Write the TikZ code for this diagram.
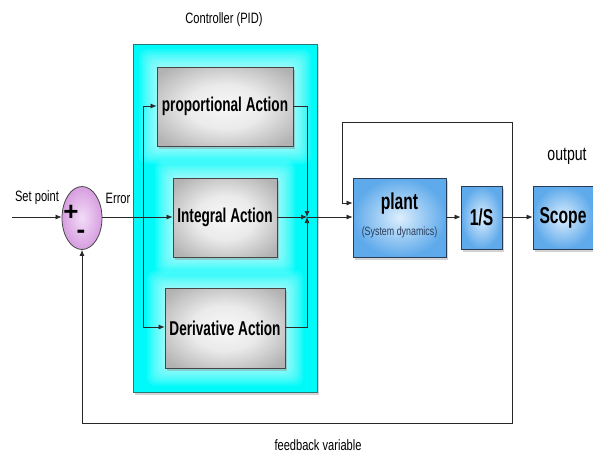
\documentclass[tikz,border=0pt]{standalone}
\usepackage{fontspec}
\setmainfont{Liberation Sans}
\newfontfamily\nf[FakeStretch=0.74]{Liberation Sans}
\newfontfamily\nfb[FakeStretch=0.68]{Liberation Sans Bold}
\usetikzlibrary{arrows.meta,shapes.geometric,shadows}
\definecolor{cyanfill}{RGB}{0,250,250}
\definecolor{cyanedge}{RGB}{40,120,120}
\definecolor{grayedge}{RGB}{70,70,70}
\definecolor{grayout}{RGB}{178,178,178}
\definecolor{blueout}{RGB}{95,170,235}
\definecolor{bluein}{RGB}{220,238,253}
\definecolor{blueedge}{RGB}{40,60,90}
\definecolor{linecol}{RGB}{40,40,40}
\definecolor{sumfill}{RGB}{230,185,240}
\pgfdeclareradialshading{grayglow}{\pgfpoint{0bp}{0bp}}{color(0bp)=(white!97!black); color(14bp)=(white!92!black); color(32bp)=(grayout); color(50bp)=(grayout)}
\tikzset{
  shad/.style={drop shadow={shadow xshift=2pt,shadow yshift=-2.5pt,opacity=0.35}},
  graybox/.style={draw=grayedge,line width=0.8pt,shading=grayglow,
    minimum width=#1,minimum height=79pt,font=\nfb\fontsize{20}{22}\selectfont,shad},
  bluebox/.style={draw=blueedge,line width=0.8pt,inner color=bluein,outer color=blueout,
    font=\nfb\fontsize{23}{25}\selectfont,shad},
  lbl/.style={font=\nf\fontsize{15}{17}\selectfont,text=black},
  conn/.style={draw=linecol,line width=0.7pt},
  arr/.style={conn,-{Latex[length=6pt,width=5pt]}},
  glow/.style={fill=white,opacity=0.09,draw=none,rounded corners=8pt}
}
\begin{document}
\begin{tikzpicture}[x=1pt,y=-1pt]
\useasboundingbox (0,0) rectangle (593,458);
% controller box
\node[draw=cyanedge,line width=0.8pt,fill=cyanfill,minimum width=184pt,minimum height=348pt,shad] (ctrl) at (225,218) {};
% soft glows round the action blocks
\foreach \cy/\w in {106.5/136,217.5/104,328/120}{
  \foreach \g in {18,16,14,12,10,8,6,4,2}{
    \fill[glow] (225-\w/2-\g,\cy-39.5-\g) rectangle (225+\w/2+\g,\cy+39.5+\g);
  }
}
\node[lbl] (ctrltitle) at (224,20) {Controller (PID)};
\node[graybox=136pt] (prop) at (225,106.5) {proportional Action};
\node[graybox=104pt] (integ) at (225,217.5) {Integral Action};
\node[graybox=120pt,minimum height=80pt] (deriv) at (225,328) {Derivative Action};
% summing junction
\node[ellipse,draw=grayedge,line width=0.8pt,inner color=white!50!sumfill,outer color=sumfill!85!violet,minimum width=40pt,minimum height=63pt,inner sep=0pt] (sum) at (82,218) {};
\node[font=\bfseries\fontsize{26}{26}\selectfont] (plus) at (71,213) {+};
\node[font=\bfseries\fontsize{26}{26}\selectfont] (minus) at (81,234) {-};
% plant etc.
\node[bluebox,minimum width=93pt,minimum height=79pt] (plant) at (399.5,217.5) {};
\node[font=\nfb\fontsize{23}{25}\selectfont] (plantt) at (399.5,204) {plant};
\node[font=\nf\fontsize{12}{13}\selectfont,text=blueedge] (plants) at (399.5,232) {(System dynamics)};
\node[bluebox,minimum width=41pt,minimum height=63pt] (inv) at (481.5,217.5) {1/S};
\node[bluebox,minimum width=60pt,minimum height=63pt] (scope) at (563,217.5) {Scope};
% labels
\node[lbl] (setp) at (37,198) {Set point};
\node[lbl] (err) at (118,198) {Error};
\node[lbl,font=\nf\fontsize{19}{21}\selectfont] (outl) at (567,156) {output};
\node[lbl] (fb) at (318,445) {feedback variable};
% coordinates
\coordinate (in) at (12,217);
\coordinate (br) at (143,217);
\coordinate (jn) at (307,217);
\coordinate (tap) at (512,217);
% connectors
\draw[arr] (in) -- (in -| sum.west);
\draw[arr] (sum.east |- br) -- (integ.west |- br);
\draw[arr] (br) |- (prop.west |- 0,106);
\draw[arr] (br) |- (deriv.west |- 0,327);
\draw[arr] (prop.east |- 0,106) -| (jn);
\draw[arr] (deriv.east |- 0,327) -| (jn);
\draw[arr] (integ.east |- jn) -- (jn);
\draw[arr] (jn) -- (plant.west |- jn);
\draw[arr] (plant.east |- jn) -- (inv.west |- jn);
\draw[arr] (inv.east |- jn) -- (scope.west |- jn);
\draw[arr] (tap) -- (512,122) -- (342,122) -- (342,203) -- (plant.west |- 0,203);
\draw[arr] (tap) -- (512,423) -- (82,423) -- (sum.south);
\end{tikzpicture}
\end{document}
